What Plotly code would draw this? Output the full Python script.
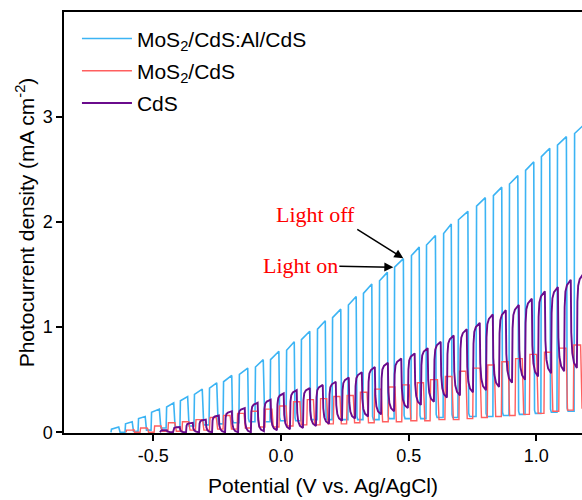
import plotly.graph_objects as go

# ---------------- data ----------------
# MoS2/CdS:Al/CdS (blue): potential where light turns on, current at light-on,
# current just before light-off, dark current after switching off
blue_on_v = [-0.666, -0.611, -0.560, -0.509, -0.450, -0.396, -0.341, -0.282, -0.227, -0.165,
             -0.102, -0.043, 0.020, 0.078, 0.141, 0.200, 0.262, 0.321, 0.384, 0.443,
             0.509, 0.568, 0.635, 0.693, 0.764, 0.830, 0.893, 0.956, 1.018, 1.081, 1.148]
blue_start = [0.03, 0.08, 0.13, 0.19, 0.24, 0.30, 0.36, 0.42, 0.48, 0.55,
              0.62, 0.69, 0.78, 0.88, 0.98, 1.09, 1.21, 1.32, 1.44, 1.57,
              1.68, 1.78, 1.89, 2.02, 2.15, 2.25, 2.36, 2.49, 2.62, 2.73, 2.84]
blue_end = [0.05, 0.10, 0.15, 0.22, 0.28, 0.34, 0.41, 0.47, 0.54, 0.61,
            0.69, 0.77, 0.86, 0.96, 1.06, 1.17, 1.29, 1.41, 1.52, 1.65,
            1.76, 1.87, 1.98, 2.10, 2.23, 2.33, 2.44, 2.57, 2.70, 2.81, 2.92]
blue_dark = [0.00, 0.01, 0.02, 0.04, 0.05, 0.06, 0.07, 0.08, 0.09, 0.10,
             0.10, 0.11, 0.11, 0.12, 0.12, 0.12, 0.12, 0.12, 0.13, 0.13,
             0.13, 0.14, 0.14, 0.15, 0.15, 0.16, 0.17, 0.18, 0.19, 0.20, 0.21]

# MoS2/CdS (red)
red_on_v = [-0.607, -0.552, -0.497, -0.443, -0.388, -0.335, -0.280, -0.227, -0.172, -0.118,
            -0.063, -0.008, 0.047, 0.101, 0.153, 0.205, 0.257, 0.309, 0.365, 0.420,
            0.473, 0.532, 0.584, 0.642, 0.697, 0.751, 0.808, 0.863, 0.917, 0.973,
            1.030, 1.088, 1.145]
red_top = [0.02, 0.04, 0.06, 0.09, 0.10, 0.12, 0.14, 0.16, 0.18, 0.20,
           0.22, 0.25, 0.29, 0.31, 0.32, 0.34, 0.35, 0.38, 0.41, 0.43,
           0.45, 0.47, 0.50, 0.53, 0.58, 0.61, 0.64, 0.67, 0.70, 0.74,
           0.76, 0.80, 0.83]
red_dark = [0.00, 0.00, 0.01, 0.01, 0.02, 0.02, 0.03, 0.03, 0.04, 0.05,
            0.05, 0.06, 0.07, 0.07, 0.08, 0.08, 0.09, 0.09, 0.10, 0.10,
            0.11, 0.11, 0.12, 0.12, 0.13, 0.14, 0.15, 0.16, 0.17, 0.18,
            0.20, 0.21, 0.23]

# CdS (purple)
pur_on_v = [-0.474, -0.423, -0.372, -0.321, -0.270, -0.219, -0.168, -0.118, -0.067, -0.016,
            0.035, 0.086, 0.137, 0.188, 0.239, 0.290, 0.341, 0.392, 0.443, 0.497,
            0.548, 0.599, 0.650, 0.701, 0.752, 0.803, 0.854, 0.905, 0.956, 1.007,
            1.058, 1.109, 1.159]
pur_top = [0.02, 0.05, 0.09, 0.12, 0.16, 0.20, 0.23, 0.28, 0.31, 0.37,
           0.40, 0.42, 0.45, 0.48, 0.52, 0.57, 0.62, 0.66, 0.70, 0.75,
           0.80, 0.86, 0.92, 0.98, 1.04, 1.12, 1.16, 1.21, 1.27, 1.34,
           1.38, 1.45, 1.51]
pur_dark = [0.00, 0.00, 0.00, 0.00, 0.00, 0.00, 0.00, 0.01, 0.02, 0.03,
            0.04, 0.06, 0.08, 0.11, 0.13, 0.15, 0.17, 0.20, 0.23, 0.26,
            0.29, 0.33, 0.35, 0.38, 0.40, 0.43, 0.47, 0.50, 0.53, 0.56,
            0.58, 0.61, 0.63]

x_ticks = [-0.5, 0.0, 0.5, 1.0]
x_ticklabels = ["-0.5", "0.0", "0.5", "1.0"]
y_ticks = [0, 1, 2, 3]
y_ticklabels = ["0", "1", "2", "3"]

names = ["MoS<sub>2</sub>/CdS:Al/CdS", "MoS<sub>2</sub>/CdS", "CdS"]
colors = ["#3cb4f4", "#ff5f5f", "#6a0b8c"]


# ---------------- chopped-light waveform assembly ----------------
def period_of(on_v, k):
    return on_v[k + 1] - on_v[k] if k + 1 < len(on_v) else on_v[k] - on_v[k - 1]


def square_chop(on_v, i_start, i_end, dark, duty):
    xs, ys = [], []
    prev = 0.0
    for k, v in enumerate(on_v):
        p = period_of(on_v, k)
        off = v + duty * p
        xs += [v, v + 0.002, off, off + 0.003, off + 0.10 * p, v + p]
        ys += [prev, i_start[k], i_end[k], dark[k] + 0.03, dark[k], dark[k]]
        prev = dark[k]
    return xs, ys


def smooth_chop(on_v, top, dark, duty):
    xs, ys = [], []
    prev = 0.0
    for k, v in enumerate(on_v):
        p = period_of(on_v, k)
        off = v + duty * p
        t = top[k]
        b = dark[k]
        xs += [v, v + 0.04 * p, v + 0.10 * p, v + 0.22 * p, off,
               off + 0.04 * p, off + 0.12 * p, off + 0.25 * p, v + p]
        ys += [prev, prev + 0.70 * (t - prev), prev + 0.87 * (t - prev), prev + 0.94 * (t - prev), t,
               b + 0.40 * (t - b), b + 0.17 * (t - b), b + 0.06 * (t - b), b]
        prev = b
    return xs, ys


bx, by = square_chop(blue_on_v, blue_start, blue_end, blue_dark, 0.55)
rx, ry = square_chop(red_on_v, red_top, red_top, red_dark, 0.50)
px, py = smooth_chop(pur_on_v, pur_top, pur_dark, 0.52)

fig = go.Figure()
fig.add_trace(go.Scatter(x=bx, y=by, mode="lines", name=names[0], legendgroup="a",
                         line=dict(color=colors[0], width=1.6)))
fig.add_trace(go.Scatter(x=rx, y=ry, mode="lines", name=names[1], legendgroup="b",
                         line=dict(color=colors[1], width=1.4)))
fig.add_trace(go.Scatter(x=px, y=py, mode="lines", name=names[2], legendgroup="c",
                         line=dict(color=colors[2], width=1.9)))

font_sans = "Liberation Sans, Arial, sans-serif"
font_serif = "Liberation Serif, Times New Roman, serif"

# annotations (text with arrow pointing at the light-on / light-off points)
fig.add_annotation(x=0.440, y=1.568, ax=-93, ay=-2, text="Light on", showarrow=True,
                   arrowhead=2, arrowsize=1.2, arrowwidth=1.5, arrowcolor="black",
                   font=dict(family=font_serif, size=22, color="#ff0000"))
fig.add_annotation(x=0.479, y=1.654, ax=-46, ay=-29, text="Light off", showarrow=True,
                   xanchor="right", yanchor="bottom",
                   arrowhead=2, arrowsize=1.2, arrowwidth=1.5, arrowcolor="black",
                   font=dict(family=font_serif, size=22, color="#ff0000"))

fig.update_layout(
    width=582, height=500,
    margin=dict(l=64, r=0, t=12, b=67),
    paper_bgcolor="white", plot_bgcolor="white",
    font=dict(family=font_sans, size=18, color="black"),
    showlegend=True,
    legend=dict(x=0.025, y=0.985, xanchor="left", yanchor="top",
                font=dict(size=21), bgcolor="rgba(0,0,0,0)", itemwidth=50,
                tracegroupgap=2),
    xaxis=dict(range=[-0.85, 1.179], tickvals=x_ticks, ticktext=x_ticklabels,
               showline=True, linecolor="black", linewidth=1.5, mirror=True,
               ticks="outside", ticklen=6, tickwidth=1.5, tickcolor="black",
               showgrid=False, zeroline=False,
               title=dict(text="Potential (V vs. Ag/AgCl)", font=dict(size=21), standoff=13)),
    yaxis=dict(range=[-0.007, 3.995], tickvals=y_ticks, ticktext=y_ticklabels,
               showline=True, linecolor="black", linewidth=1.5, mirror=False,
               ticks="outside", ticklen=6, tickwidth=1.5, tickcolor="black",
               showgrid=False, zeroline=False,
               title=dict(text="Photocurrent density (mA cm<sup>-2</sup>)", font=dict(size=21), standoff=2)),
)

# the page body margin is removed so the 582x500 figure fills the window exactly
fig.write_html("out.html", config={"displayModeBar": False},
               post_script="document.body.style.margin='0px';")
